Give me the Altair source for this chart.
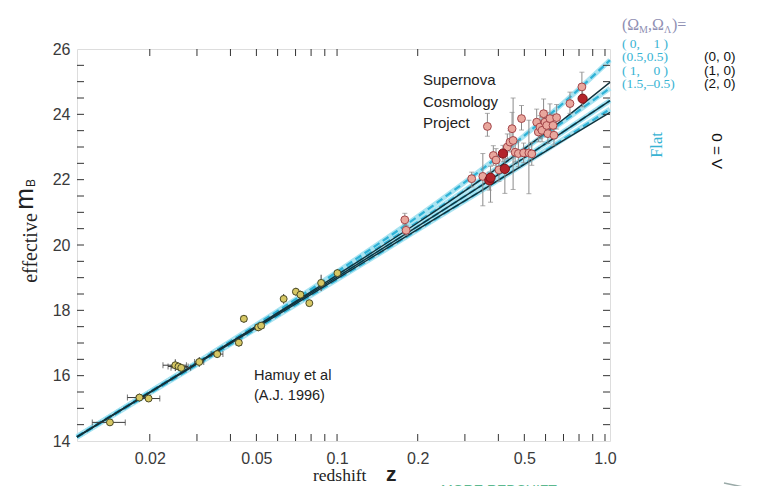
import altair as alt
import pandas as pd

# ---------------- data ----------------
# model curves (Omega_M, Omega_Lambda)
model_z = [0.0107, 0.1, 0.2, 0.35, 0.5, 0.7, 1.044]
m_0_1 = [14.14, 19.18, 20.87, 22.34, 23.35, 24.35, 25.66]
m_05_05 = [14.13, 19.10, 20.71, 22.05, 22.94, 23.78, 24.80]
m_1_0 = [14.12, 19.02, 20.57, 21.85, 22.67, 23.47, 24.42]
m_15_m05 = [14.11, 18.94, 20.46, 21.69, 22.48, 23.24, 24.16]
m_0_0 = [14.13, 19.08, 20.68, 22.04, 22.95, 23.85, 24.98]
m_2_0 = [14.12, 18.97, 20.48, 21.69, 22.47, 23.20, 24.06]

# Hamuy et al low-redshift supernovae
lz_z = [0.0142, 0.0183, 0.0198, 0.0249, 0.0256, 0.0262, 0.0306, 0.0357, 0.0430,
        0.0449, 0.0508, 0.0521, 0.0632, 0.0702, 0.0730, 0.0788, 0.0872, 0.1003]
lz_m = [14.57, 15.33, 15.30, 16.32, 16.28, 16.24, 16.42, 16.66, 17.01,
        17.74, 17.48, 17.53, 18.35, 18.57, 18.48, 18.22, 18.84, 19.14]
lz_dz = [0.0020, 0.0018, 0.0020, 0.0025, 0.0022, 0.0022, 0.0012, 0.0018, 0.0010,
         0.0010, 0.0012, 0.0012, 0.0010, 0.0010, 0.0010, 0.0010, 0.0010, 0.0010]
lz_dm = [0.10, 0.12, 0.10, 0.18, 0.12, 0.12, 0.15, 0.12, 0.12,
         0.12, 0.12, 0.12, 0.15, 0.12, 0.12, 0.10, 0.25, 0.12]

# Supernova Cosmology Project high-redshift supernovae
hz_z = [0.179, 0.181, 0.318, 0.350, 0.364, 0.370, 0.374, 0.383, 0.392, 0.402,
        0.416, 0.423, 0.432, 0.442, 0.450, 0.454, 0.462, 0.475, 0.488, 0.497,
        0.520, 0.533, 0.556, 0.564, 0.572, 0.582, 0.590, 0.597, 0.606, 0.612,
        0.623, 0.640, 0.645, 0.660, 0.740, 0.820, 0.825]
hz_m = [20.77, 20.45, 22.03, 22.10, 23.63, 21.98, 22.06, 22.74, 22.60, 22.30,
        22.80, 22.33, 23.00, 23.15, 23.56, 23.20, 22.84, 22.80, 23.87, 22.82,
        22.82, 22.79, 23.76, 23.46, 23.61, 23.51, 24.02, 23.76, 23.66, 23.41,
        23.87, 23.66, 23.36, 23.90, 24.33, 24.84, 24.48]
hz_elo = [0.15, 0.15, 0.25, 0.90, 0.30, 0.30, 0.75, 0.30, 0.30, 0.35,
          0.25, 0.75, 0.35, 0.30, 0.45, 1.50, 0.30, 0.40, 0.35, 0.30,
          1.25, 0.35, 0.35, 0.30, 0.35, 0.35, 0.35, 0.30, 0.35, 0.30,
          0.40, 0.30, 0.30, 0.35, 0.30, 0.40, 0.25]
hz_ehi = [0.20, 0.15, 0.20, 0.70, 0.40, 0.25, 0.35, 0.30, 0.35, 0.30,
          0.25, 0.30, 0.40, 0.35, 0.50, 1.30, 0.30, 0.40, 0.40, 0.30,
          1.00, 0.35, 0.40, 0.35, 0.35, 0.40, 0.45, 0.35, 0.40, 0.35,
          0.45, 0.35, 0.30, 0.40, 0.35, 0.45, 0.30]
hz_dark = [0, 0, 0, 0, 0, 1, 1, 0, 0, 0,
           1, 1, 0, 0, 0, 0, 0, 0, 0, 0,
           0, 0, 0, 0, 0, 0, 0, 0, 0, 0,
           0, 0, 0, 0, 0, 0, 1]

# axes
x_label_vals = [0.02, 0.05, 0.1, 0.2, 0.5, 1.0]
x_tick_vals = [0.02, 0.03, 0.04, 0.05, 0.06, 0.07, 0.08, 0.09, 0.1,
               0.2, 0.3, 0.4, 0.5, 0.6, 0.7, 0.8, 0.9, 1.0]
y_label_vals = [14, 16, 18, 20, 22, 24, 26]
y_tick_vals = [14.5, 15, 15.5, 16, 16.5, 17, 17.5, 18, 18.5, 19, 19.5, 20, 20.5,
               21, 21.5, 22, 22.5, 23, 23.5, 24, 24.5, 25, 25.5]

# ---------------- build tables ----------------
W, H = 533, 392
SANS = "Liberation Sans"
SERIF = "Liberation Serif"
NB = "\u00a0"

flat_models = {"(0,1)": m_0_1, "(0.5,0.5)": m_05_05, "(1,0)": m_1_0, "(1.5,-0.5)": m_15_m05}
lam0_models = {"(0,0)": m_0_0, "(1,0)": m_1_0, "(2,0)": m_2_0}


def long_df(models):
    rows = []
    for name, ms in models.items():
        for z, m in zip(model_z, ms):
            rows.append({"model": name, "z": z, "m": m})
    return pd.DataFrame(rows)


flat_df = long_df(flat_models)
lam0_df = long_df(lam0_models)

lz = pd.DataFrame({"z": lz_z, "m": lz_m, "dz": lz_dz, "dm": lz_dm})
lz["zlo"] = lz.z - lz.dz
lz["zhi"] = lz.z + lz.dz
lz["mlo"] = lz.m - lz.dm
lz["mhi"] = lz.m + lz.dm

hz = pd.DataFrame({"z": hz_z, "m": hz_m, "elo": hz_elo, "ehi": hz_ehi, "dark": hz_dark})
hz["mlo"] = hz.m - hz.elo
hz["mhi"] = hz.m + hz.ehi

xt = pd.DataFrame({"z": x_tick_vals})
yt = pd.DataFrame({"m": y_tick_vals})

xs = alt.Scale(type="log", domain=[0.0107, 1.044], nice=False)
ys = alt.Scale(domain=[14, 26], nice=False, zero=False)

xaxis = alt.Axis(values=x_label_vals, labelExpr="datum.value >= 1 ? '1.0' : format(datum.value, '.2~f')",
                 ticks=False, domain=False, grid=False, labelFontSize=16, labelFont=SANS,
                 labelColor="#3a3a3a", labelPadding=9, title=None, labelFlush=False)
yaxis = alt.Axis(values=y_label_vals, ticks=False, domain=False, grid=False, labelFontSize=16,
                 labelFont=SANS, labelColor="#3a3a3a", labelPadding=7, title=None)

X = alt.X("z:Q", scale=xs, axis=xaxis)
Y = alt.Y("m:Q", scale=ys, axis=yaxis)

glow = alt.Chart(flat_df).mark_line(color="#a9e3f1", strokeWidth=5, interpolate="monotone").encode(
    x=X, y=Y, detail="model:N")
dashed = alt.Chart(flat_df).mark_line(color="#2eb2d6", strokeWidth=2.2, strokeDash=[7, 4],
                                      interpolate="monotone").encode(x=X, y=Y, detail="model:N")
solid = alt.Chart(lam0_df).mark_line(color="#12323c", strokeWidth=1.4, interpolate="monotone").encode(
    x=X, y=Y, detail="model:N")

EC = "#3a3a3a"
lz_h = alt.Chart(lz).mark_rule(color=EC, strokeWidth=1).encode(x=alt.X("zlo:Q", scale=xs), x2="zhi:Q", y=Y)
lz_v = alt.Chart(lz).mark_rule(color=EC, strokeWidth=1).encode(x=X, y=alt.Y("mlo:Q", scale=ys), y2="mhi:Q")
lz_cap1 = alt.Chart(lz).mark_tick(color=EC, size=6, thickness=1, orient="vertical").encode(
    x=alt.X("zlo:Q", scale=xs), y=Y)
lz_cap2 = alt.Chart(lz).mark_tick(color=EC, size=6, thickness=1, orient="vertical").encode(
    x=alt.X("zhi:Q", scale=xs), y=Y)
lz_pts = alt.Chart(lz).mark_circle(size=48, fill="#d6c764", stroke="#4b4a26", strokeWidth=1,
                                   opacity=1).encode(x=X, y=Y)

HC = "#8a8a8a"
hz_v = alt.Chart(hz).mark_rule(color=HC, strokeWidth=1).encode(x=X, y=alt.Y("mlo:Q", scale=ys), y2="mhi:Q")
hz_cap1 = alt.Chart(hz).mark_tick(color=HC, size=5, thickness=1, orient="horizontal").encode(
    x=X, y=alt.Y("mlo:Q", scale=ys))
hz_cap2 = alt.Chart(hz).mark_tick(color=HC, size=5, thickness=1, orient="horizontal").encode(
    x=X, y=alt.Y("mhi:Q", scale=ys))
hz_pts = alt.Chart(hz).transform_filter("datum.dark == 0").mark_circle(
    size=62, fill="#e9a79d", stroke="#a4464a", strokeWidth=1, opacity=1).encode(x=X, y=Y)
hz_dark_pts = alt.Chart(hz).transform_filter("datum.dark == 1").mark_circle(
    size=85, fill="#b3242a", stroke="#7a1418", strokeWidth=1, opacity=1).encode(x=X, y=Y)

TC = "#333333"
tick_bot = alt.Chart(xt).mark_rule(color=TC).encode(x=X, y=alt.value(H), y2=alt.value(H - 7))
tick_top = alt.Chart(xt).mark_rule(color=TC).encode(x=X, y=alt.value(0), y2=alt.value(7))
tick_left = alt.Chart(yt).mark_rule(color=TC).encode(y=Y, x=alt.value(0), x2=alt.value(7))
tick_right = alt.Chart(yt).mark_rule(color=TC).encode(y=Y, x=alt.value(W), x2=alt.value(W - 7))

# faint arrow under "MORE REDSHIFT"
arrow = alt.Chart(alt.Data(values=[{"a": 1}])).mark_rule(color="#9aaaa8", strokeWidth=1.5).encode(
    x=alt.value(647), x2=alt.value(671), y=alt.value(434), y2=alt.value(439))


def txt(s, x, y, size, color="#222222", font=SANS, angle=0, align="left", baseline="middle", weight="normal"):
    return alt.Chart(alt.Data(values=[{"t": s}])).mark_text(
        fontSize=size, color=color, font=font, angle=angle, align=align, baseline=baseline,
        fontWeight=weight).encode(text="t:N", x=alt.value(x), y=alt.value(y))


OM = "#8f8fb3"
CY = "#38b3d3"
texts = [
    txt("Supernova", 346, 31, 15),
    txt("Cosmology", 346, 52.5, 15),
    txt("Project", 346, 74, 15),
    txt("Hamuy et al", 177, 327, 14.5),
    txt("(A.J. 1996)", 177, 347, 14.5),
    txt("redshift", 236, 432, 17.5, color="#222222", font=SERIF, baseline="alphabetic"),
    txt("z", 309, 432, 21, color="#222222", font=SANS, baseline="alphabetic", weight="bold"),
    txt("MORE REDSHIFT", 364, 435, 14, color="#5cb88e", font=SANS, baseline="top"),
    txt("effective", -40, 199, 20, font=SERIF, angle=270, align="center", baseline="alphabetic"),
    txt("m", -44, 150, 26, font=SANS, angle=270, align="center", baseline="alphabetic"),
    txt("B", -42, 134, 12, font=SANS, angle=270, align="center", baseline="alphabetic"),
    # legend block
    txt("(\u03a9", 545, -19, 16, color=OM, font=SERIF, baseline="alphabetic"),
    txt("M", 562, -16, 10, color=OM, font=SERIF, baseline="alphabetic"),
    txt(",\u03a9", 571, -19, 16, color=OM, font=SERIF, baseline="alphabetic"),
    txt("\u039b", 587, -16, 10, color=OM, font=SERIF, baseline="alphabetic"),
    txt(")=", 595, -19, 16, color=OM, font=SERIF, baseline="alphabetic"),
    txt("(" + NB + "0," + NB * 4 + "1" + NB + ")", 545, -5.5, 13.5, color=CY, font=SERIF),
    txt("(0.5,0.5)", 545, 8, 13.5, color=CY, font=SERIF),
    txt("(" + NB + "1," + NB * 4 + "0" + NB + ")", 545, 21.5, 13.5, color=CY, font=SERIF),
    txt("(1.5,\u20130.5)", 545, 35, 13.5, color=CY, font=SERIF),
    txt("(0," + NB + "0)", 627, 8, 13.5, color="#111111"),
    txt("(1," + NB + "0)", 627, 21.5, 13.5, color="#111111"),
    txt("(2," + NB + "0)", 627, 35, 13.5, color="#111111"),
    txt("Flat", 580, 96, 16.5, color=CY, font=SERIF, angle=270, align="center"),
    txt("\u039b = 0", 640, 102, 15.5, color="#111111", angle=270, align="center"),
]

chart = alt.layer(
    glow, dashed, solid,
    lz_h, lz_v, lz_cap1, lz_cap2, lz_pts,
    hz_v, hz_cap1, hz_cap2, hz_pts, hz_dark_pts,
    tick_bot, tick_top, tick_left, tick_right, arrow,
    *texts,
).properties(
    width=W, height=H,
    autosize=alt.AutoSizeParams(type="none"),
    padding={"left": 69, "top": 41, "right": 141, "bottom": 48},
).configure_view(
    fill="#d5ecec", stroke="#444444", strokeWidth=1
).configure(background="white")

chart.save("out.html", embed_options={"renderer": "svg", "actions": False})
